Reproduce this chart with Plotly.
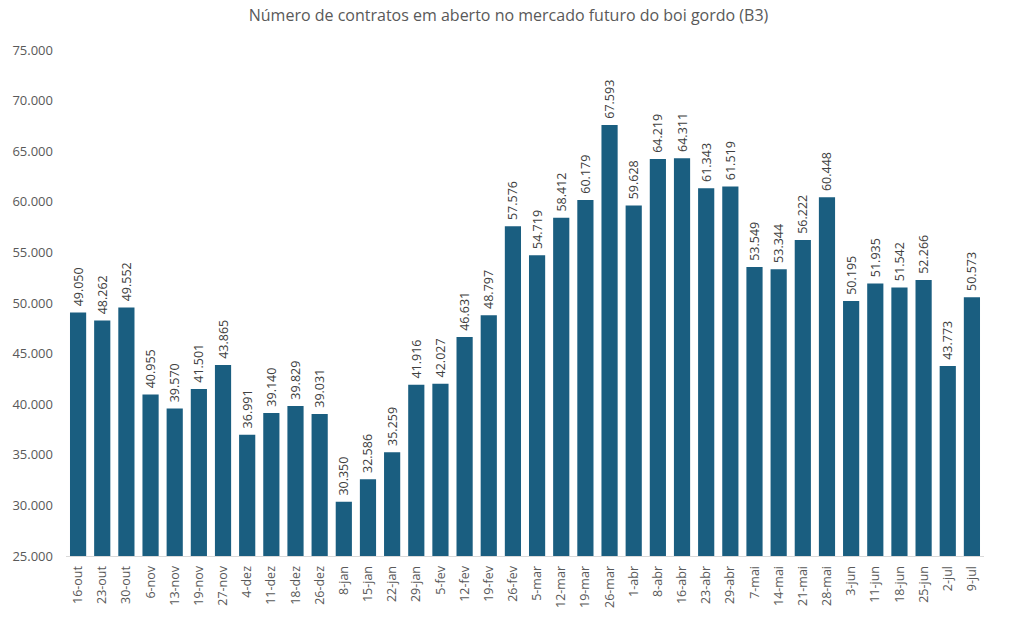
import plotly.graph_objects as go

categories = ["16-out","23-out","30-out","6-nov","13-nov","19-nov","27-nov","4-dez","11-dez","18-dez","26-dez",
              "8-jan","15-jan","22-jan","29-jan","5-fev","12-fev","19-fev","26-fev","5-mar","12-mar","19-mar","26-mar",
              "1-abr","8-abr","16-abr","23-abr","29-abr","7-mai","14-mai","21-mai","28-mai","3-jun","11-jun","18-jun",
              "25-jun","2-jul","9-jul"]
values = [49050,48262,49552,40955,39570,41501,43865,36991,39140,39829,39031,
          30350,32586,35259,41916,42027,46631,48797,57576,54719,58412,60179,67593,
          59628,64219,64311,61343,61519,53549,53344,56222,60448,50195,51935,51542,
          52266,43773,50573]
y_ticks = [25000,30000,35000,40000,45000,50000,55000,60000,65000,70000,75000]
y_tick_labels = [f"{v:,}".replace(",", ".") for v in y_ticks]
value_labels = [" " + f"{v:,}".replace(",", ".") for v in values]

fig = go.Figure(go.Bar(
    x=categories, y=values,
    marker=dict(color="#1a5e80", line=dict(width=0)),
    text=value_labels, textposition="outside", textangle=-90,
    constraintext="none",
    textfont=dict(family="Open Sans", size=12.5, color="#404040"),
    cliponaxis=False,
))
fig.update_layout(
    width=1017, height=631,
    margin=dict(l=63, r=33, t=50, b=75),
    paper_bgcolor="white", plot_bgcolor="white",
    bargap=0.33,
    title=dict(text="Número de contratos em aberto no mercado futuro do boi gordo (B3)",
               x=0.5, xanchor="center", y=0.975, yanchor="middle",
               font=dict(family="Open Sans", size=16, color="#595959")),
    font=dict(family="Open Sans", color="#595959"),
    showlegend=False,
)
fig.update_yaxes(range=[25000, 75000], tickvals=y_ticks, ticktext=y_tick_labels,
                 showgrid=False, zeroline=False, showline=False,
                 tickfont=dict(size=13, color="#595959"), ticks="", ticklabelstandoff=12)
fig.update_xaxes(showline=True, linecolor="#d9d9d9", linewidth=1, tickangle=-90,
                 tickfont=dict(size=12.5, color="#595959"), showgrid=False, ticks="",
                 ticklabelstandoff=4)
fig.write_html("out.html")
